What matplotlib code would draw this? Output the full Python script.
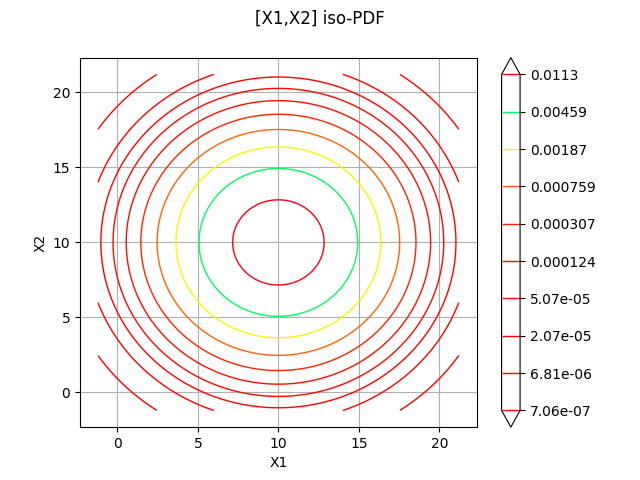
import matplotlib
matplotlib.use('Agg')
import matplotlib.pyplot as plt
import numpy as np

# normal distribution
mean = [10.0, 10.0]
sigma = [3.0, 3.0]
x_range = [-1.2, 21.2]
y_range = [-1.2, 21.2]

levels = [7.06e-07, 6.81e-06, 2.07e-05, 5.07e-05, 0.000124,
          0.000307, 0.000759, 0.00187, 0.00459, 0.0113]
level_labels = ['7.06e-07', '6.81e-06', '2.07e-05', '5.07e-05', '0.000124',
                '0.000307', '0.000759', '0.00187', '0.00459', '0.0113']

x = np.linspace(x_range[0], x_range[1], 200)
y = np.linspace(y_range[0], y_range[1], 200)
X, Y = np.meshgrid(x, y)
Z = np.exp(-0.5 * (((X - mean[0]) / sigma[0]) ** 2 + ((Y - mean[1]) / sigma[1]) ** 2)) \
    / (2 * np.pi * sigma[0] * sigma[1])

fig, ax = plt.subplots(figsize=(6.4, 4.8), dpi=100)
ax.grid(True)
ax.set_axisbelow(True)
cs = ax.contour(X, Y, Z, levels=levels, cmap='hsv', extend='both', linewidths=1)
cb = fig.colorbar(cs, ax=ax)
cb.set_ticks(levels)
cb.set_ticklabels(level_labels)
ax.set_xlabel('X1')
ax.set_ylabel('X2')
ax.margins(0.05)
ax.set_xlim(x_range[0] - 0.05 * (x_range[1] - x_range[0]), x_range[1] + 0.05 * (x_range[1] - x_range[0]))
ax.set_ylim(y_range[0] - 0.05 * (y_range[1] - y_range[0]), y_range[1] + 0.05 * (y_range[1] - y_range[0]))
fig.suptitle('[X1,X2] iso-PDF')
fig.savefig('out.png')
